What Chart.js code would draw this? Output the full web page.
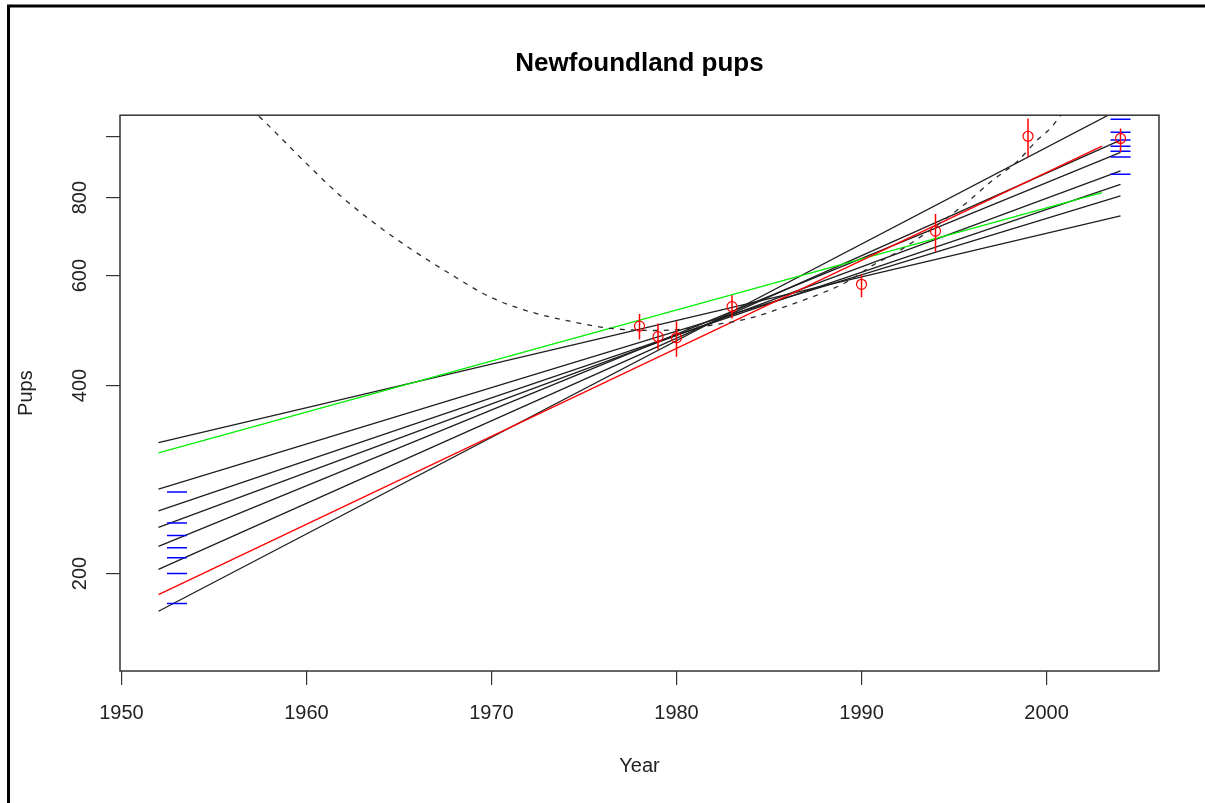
<!DOCTYPE html>
<html lang="en">
<head>
<meta charset="UTF-8">
<title>Newfoundland pups</title>
<script src="https://cdn.jsdelivr.net/npm/chart.js@4"></script>
<style>
  html, body { margin: 0; padding: 0; background: #fff; }
  canvas { display: block; }
</style>
</head>
<body>
<canvas id="pupChart" width="1205" height="803"></canvas>
<script>
  const FONT = "'Liberation Sans', Arial, sans-serif";

  // projected trajectories (log scale straight lines)
  const fitYears = [1952, 2004];
  const shortFitYears = [1952, 2003];
  const blackStart = [174, 203, 221, 237, 252, 273, 324];
  const blackEnd = [1110, 989, 945, 883, 840, 805, 748];
  const redFit = [185, 967];
  const greenFit = [312, 815];

  // survey estimates and their intervals
  const surveyYears = [1978, 1979, 1980, 1983, 1990, 1994, 1999, 2004];
  const surveyPups = [498, 479, 477, 535, 581, 707, 1003, 995];
  const surveyLow = [474, 457, 445, 512, 554, 655, 930, 947];
  const surveyHigh = [521, 503, 507, 558, 603, 753, 1071, 1032];

  // dashed curve
  const curveYears = [1957.0, 1957.7, 1960.1, 1961.8, 1963.7, 1965.6, 1967.6, 1969.9, 1972.1, 1974.4, 1976.4,
                      1979.0, 1982.5, 1984.0, 1986.1, 1987.7, 1989.2, 1990.6, 1992.1, 1995.3, 1997.1, 1998.4,
                      1999.5, 2000.2, 2000.7, 2001.2];
  const curvePups = [1110, 1061, 901, 807, 727, 663, 608, 555, 525, 506, 494,
                     490, 503, 513, 538, 560, 586, 623, 659, 769, 853, 913,
                     989, 1032, 1077, 1125];

  // short blue marks at both ends
  const markStartYear = 1953;
  const markStart = [179, 200, 212, 220, 230, 241, 270];
  const markEndYear = 2004;
  const markEnd = [872, 929, 949, 967, 989, 1018, 1068];

  const xTicks = [1950, 1960, 1970, 1980, 1990, 2000];
  const yTicks = [200, 400, 600, 800, 1000];
  const yTickLabels = ['200', '400', '600', '800', ''];

  const datasets = [];

  blackStart.forEach((v, i) => {
    datasets.push({
      data: [{x: fitYears[0], y: v}, {x: fitYears[1], y: blackEnd[i]}],
      borderColor: '#1e1e1e', borderWidth: 1.3, pointRadius: 0, order: 6
    });
  });

  datasets.push({
    data: shortFitYears.map((x, i) => ({x: x, y: redFit[i]})),
    borderColor: '#ff0000', borderWidth: 1.3, pointRadius: 0, order: 5
  });
  datasets.push({
    data: shortFitYears.map((x, i) => ({x: x, y: greenFit[i]})),
    borderColor: '#00ee00', borderWidth: 1.3, pointRadius: 0, order: 5
  });

  datasets.push({
    data: curveYears.map((x, i) => ({x: x, y: curvePups[i]})),
    borderColor: '#2a2a2a', borderWidth: 1.3, borderDash: [5, 6],
    pointRadius: 0, cubicInterpolationMode: 'monotone', order: 4
  });

  datasets.push({
    data: markStart.map(v => ({x: markStartYear, y: v})).concat(markEnd.map(v => ({x: markEndYear, y: v}))),
    showLine: false, pointStyle: 'line', pointRadius: 10,
    borderColor: '#0000ff', pointBorderColor: '#0000ff', pointBorderWidth: 1.5, order: 3
  });

  // vertical interval bars
  surveyYears.forEach((yr, i) => {
    datasets.push({
      data: [{x: yr, y: surveyLow[i]}, {x: yr, y: surveyHigh[i]}],
      borderColor: '#ff0000', borderWidth: 1.5, pointRadius: 0, order: 2
    });
  });

  datasets.push({
    data: surveyYears.map((x, i) => ({x: x, y: surveyPups[i]})),
    showLine: false, pointStyle: 'circle', pointRadius: 5,
    pointBorderColor: '#ff0000', pointBackgroundColor: 'rgba(0,0,0,0)', pointBorderWidth: 1.2, order: 1
  });

  const framePlugin = {
    id: 'frame',
    beforeDraw(chart) {
      const ctx = chart.ctx;
      ctx.save();
      ctx.fillStyle = '#fff';
      ctx.fillRect(0, 0, chart.width, chart.height);
      // outer border of the figure
      ctx.strokeStyle = '#000';
      ctx.lineWidth = 3;
      ctx.beginPath();
      ctx.moveTo(8.5, chart.height);
      ctx.lineTo(8.5, 6);
      ctx.lineTo(chart.width, 6);
      ctx.stroke();
      ctx.restore();
    },
    afterDraw(chart) {
      const ctx = chart.ctx;
      const a = chart.chartArea;
      ctx.save();
      ctx.strokeStyle = '#333';
      ctx.lineWidth = 1.5;
      ctx.strokeRect(a.left, a.top, a.right - a.left, a.bottom - a.top);
      // y tick labels are written sideways
      const ys = chart.scales.y;
      ctx.fillStyle = '#222';
      ctx.font = '20px ' + FONT;
      ctx.textAlign = 'center';
      ctx.textBaseline = 'middle';
      yTicks.forEach((v, i) => {
        if (!yTickLabels[i]) return;
        ctx.save();
        ctx.translate(80, ys.getPixelForValue(v));
        ctx.rotate(-Math.PI / 2);
        ctx.fillText(yTickLabels[i], 0, 0);
        ctx.restore();
      });
      ctx.restore();
    }
  };

  new Chart(document.getElementById('pupChart'), {
    type: 'line',
    data: { datasets: datasets },
    options: {
      responsive: false,
      animation: false,
      layout: { padding: { left: 0, right: 46, top: 0, bottom: 0 } },
      plugins: {
        legend: { display: false },
        tooltip: { enabled: false },
        title: {
          display: true,
          text: 'Newfoundland pups',
          fullSize: false,
          color: '#000',
          font: { family: FONT, size: 26, weight: 'bold' },
          padding: { top: 48, bottom: 36 }
        }
      },
      scales: {
        x: {
          type: 'linear',
          min: 1949.92,
          max: 2006.08,
          afterBuildTicks: s => { s.ticks = xTicks.map(v => ({value: v})); },
          afterFit: s => { s.height = 132; },
          border: { display: false },
          grid: { drawOnChartArea: false, drawTicks: true, tickLength: 14, color: '#333', lineWidth: 1.2 },
          ticks: {
            padding: 16, color: '#222', autoSkip: false, maxRotation: 0,
            font: { family: FONT, size: 20 },
            callback: v => String(v)
          },
          title: { display: true, text: 'Year', color: '#222', font: { family: FONT, size: 20 }, padding: { top: 0, bottom: 25 } }
        },
        y: {
          type: 'logarithmic',
          min: 139.6,
          max: 1084,
          afterBuildTicks: s => { s.ticks = yTicks.map(v => ({value: v})); },
          afterFit: s => { s.width = 120; },
          border: { display: false },
          grid: { drawOnChartArea: false, drawTicks: true, tickLength: 14, color: '#333', lineWidth: 1.2 },
          ticks: { display: false },
          title: { display: true, text: 'Pups', color: '#222', font: { family: FONT, size: 20 }, padding: { top: 14, bottom: 0 } }
        }
      }
    },
    plugins: [framePlugin]
  });
</script>
</body>
</html>
